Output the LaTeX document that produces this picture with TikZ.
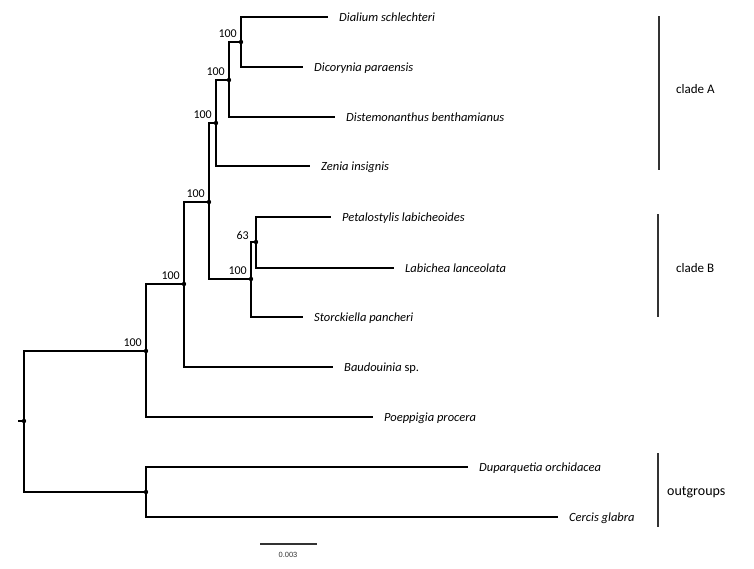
\documentclass[tikz,border=0pt]{standalone}
\usepackage{fontspec}
\setmainfont{Carlito}
\newfontfamily\scalefnt{Liberation Sans}
\usepackage{tikz}
\usetikzlibrary{positioning}
\tikzstyle{branch}=[line width=1.3pt]
\tikzstyle{taxon}=[inner sep=0pt, text height=9pt, text depth=1pt, font=\fontsize{12.5}{15}\selectfont\itshape]
\tikzstyle{boot}=[inner sep=0pt, font=\fontsize{12}{14}\selectfont]
\tikzstyle{cladelab}=[inner sep=0pt, anchor=west, font=\fontsize{13}{15}\selectfont]
\tikzstyle{cladebar}=[line width=1.6pt, draw=black!80]
\newcommand{\ntaxon}[3]{
 \coordinate (#1) at #2;
 \node[taxon, right=11pt of #1] (#1l) {#3};
}
\newcommand{\nboot}[2]{
 \fill (#1) circle (2.2pt);
 \node[boot, above left=4pt and 4pt of #1] (#1b) {#2};
}
\begin{document}
\begin{tikzpicture}[x=1pt, y=-1pt]
 \useasboundingbox (0,0) rectangle (754,568);
% internal nodes
 \coordinate (stub) at (18,421);
 \coordinate (root) at (24,421);
 \coordinate (nIn) at (146,351);
 \coordinate (nOut) at (146,492);
 \coordinate (nBau) at (184,284);
 \coordinate (nAB) at (209,202);
 \coordinate (nA) at (216,123);
 \coordinate (nA2) at (229,80);
 \coordinate (nA1) at (241,42);
 \coordinate (nB) at (251,279);
 \coordinate (nB63) at (256,242);
% tips
 \ntaxon{tDia}{(328,17)}{Dialium schlechteri}
 \ntaxon{tDic}{(303,67)}{Dicorynia paraensis}
 \ntaxon{tDis}{(335,117)}{Distemonanthus benthamianus}
 \ntaxon{tZen}{(310,166)}{Zenia insignis}
 \ntaxon{tPet}{(331,217)}{Petalostylis labicheoides}
 \ntaxon{tLab}{(394,268)}{Labichea lanceolata}
 \ntaxon{tSto}{(303,317)}{Storckiella pancheri}
 \ntaxon{tBau}{(333,367)}{Baudouinia {\upshape sp.}}
 \ntaxon{tPoe}{(373,417)}{Poeppigia procera}
 \ntaxon{tDup}{(468,467)}{Duparquetia orchidacea}
 \ntaxon{tCer}{(558,517)}{Cercis glabra}
% branches
 \draw[branch] (stub) -- (root);
 \draw[branch] (root) |- (nIn);
 \draw[branch] (root) |- (nOut);
 \draw[branch] (nIn) |- (nBau);
 \draw[branch] (nIn) |- (tPoe);
 \draw[branch] (nBau) |- (nAB);
 \draw[branch] (nBau) |- (tBau);
 \draw[branch] (nAB) |- (nA);
 \draw[branch] (nAB) |- (nB);
 \draw[branch] (nA) |- (nA2);
 \draw[branch] (nA) |- (tZen);
 \draw[branch] (nA2) |- (nA1);
 \draw[branch] (nA2) |- (tDis);
 \draw[branch] (nA1) |- (tDia);
 \draw[branch] (nA1) |- (tDic);
 \draw[branch] (nB) |- (nB63);
 \draw[branch] (nB) |- (tSto);
 \draw[branch] (nB63) |- (tPet);
 \draw[branch] (nB63) |- (tLab);
 \draw[branch] (nOut) |- (tDup);
 \draw[branch] (nOut) |- (tCer);
% support values
 \nboot{nIn}{100}
 \nboot{nBau}{100}
 \nboot{nAB}{100}
 \nboot{nA}{100}
 \nboot{nA2}{100}
 \nboot{nA1}{100}
 \nboot{nB}{100}
 \fill (nB63) circle (2.2pt);
 \node[boot, above left=2pt and 7pt of nB63] (nB63b) {63};
 \fill (root) circle (2.2pt);
 \fill (nOut) circle (2.2pt);
% clades
 \coordinate (cAt) at (659,16);
 \coordinate (cAb) at (659,170);
 \draw[cladebar] (cAt) -- (cAb);
 \node[cladelab] (cAl) at (676,89) {clade A};
 \coordinate (cBt) at (658,214);
 \coordinate (cBb) at (658,317);
 \draw[cladebar] (cBt) -- (cBb);
 \node[cladelab] (cBl) at (676,268) {clade B};
 \coordinate (cOt) at (658,453);
 \coordinate (cOb) at (658,527);
 \draw[cladebar] (cOt) -- (cOb);
 \node[cladelab, font=\fontsize{14}{16}\selectfont] (cOl) at (667,492) {outgroups};
% scale
 \coordinate (sbl) at (260,544);
 \coordinate (sbr) at (317,544);
 \draw[cladebar] (sbl) -- (sbr);
 \node[inner sep=0pt, font=\scalefnt\fontsize{7.5}{9}\selectfont, text=black!80] (sbt) at (288,555) {0.003};
\end{tikzpicture}
\end{document}
